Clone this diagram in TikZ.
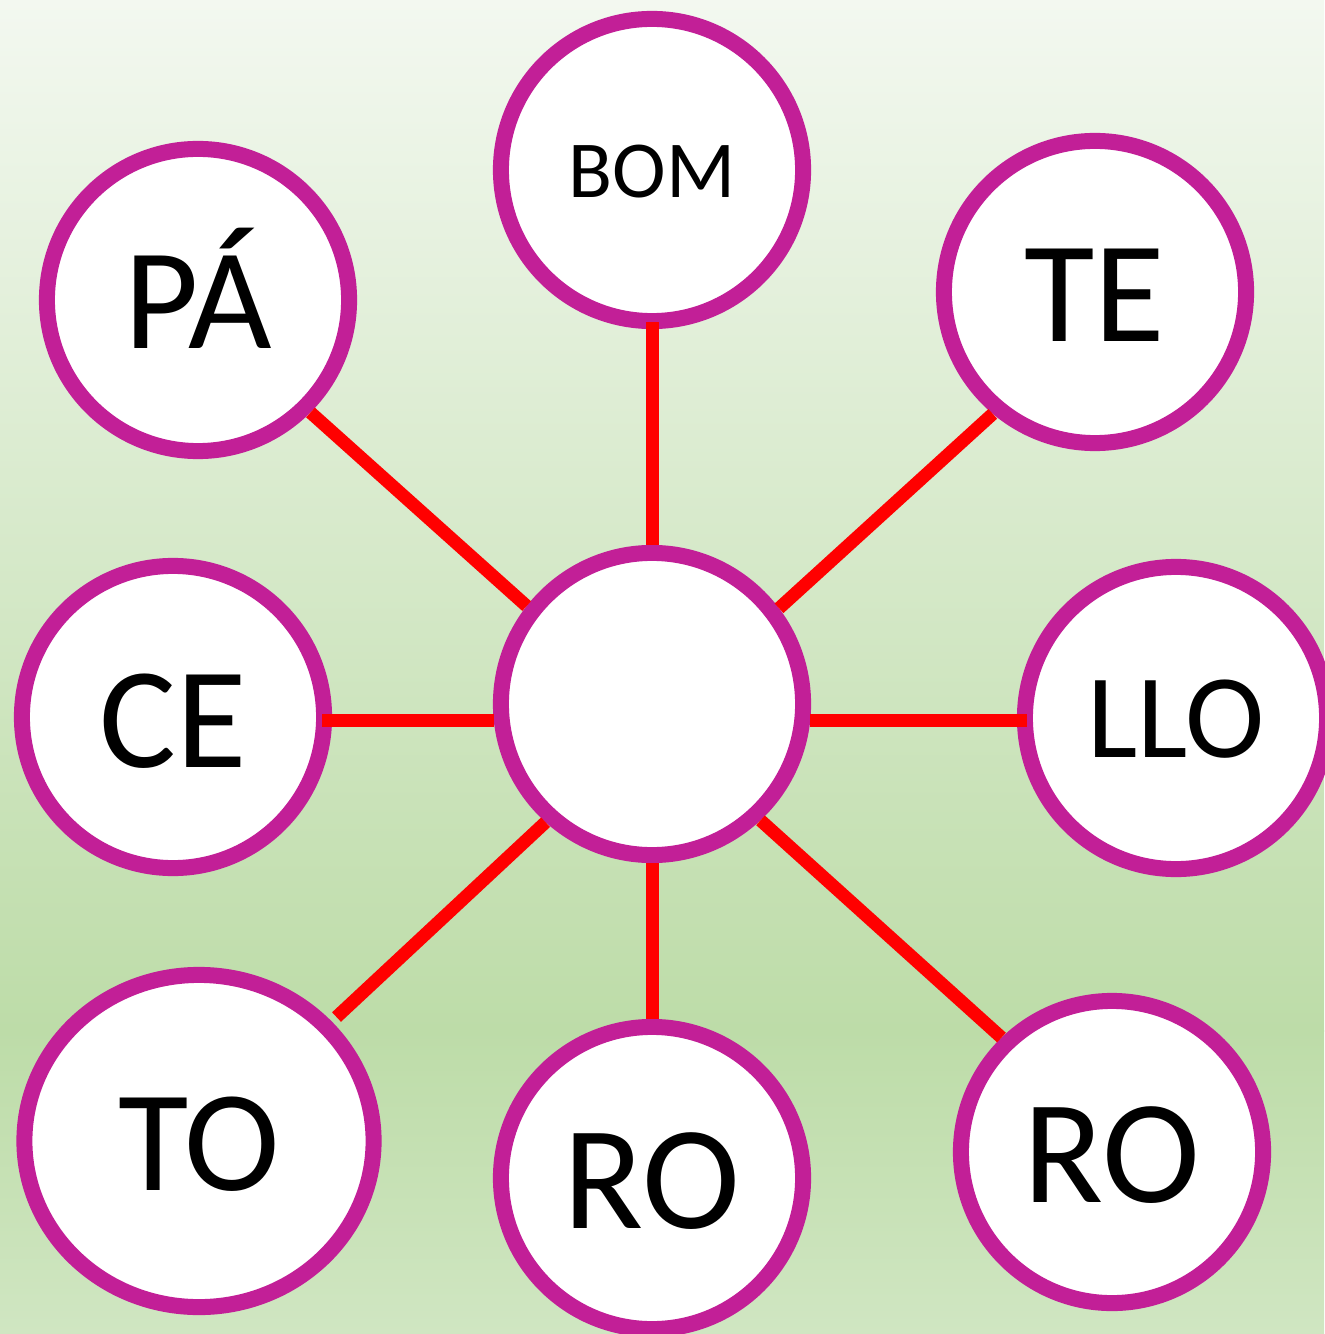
\documentclass[tikz,border=0pt]{standalone}
\usepackage{fontspec}
\setmainfont{Carlito}
\usetikzlibrary{shapes.geometric}
\definecolor{bgtop}{RGB}{243,248,240}
\definecolor{bgmid}{RGB}{189,220,168}
\definecolor{bgbot}{RGB}{208,230,194}
\definecolor{ringpurple}{RGB}{194,31,151}
\definecolor{linkred}{RGB}{255,0,0}
\tikzset{
  bubble/.style={circle, draw=ringpurple, fill=white, line width=0.16cm,
    minimum size=3.02cm, inner sep=0pt, text depth=0pt, text=black},
  bigtext/.style={font=\fontsize{41pt}{41pt}\selectfont},
  link/.style={draw=linkred, line width=0.13cm, line cap=butt}
}
\begin{document}
\begin{tikzpicture}[x=0.01cm, y=-0.01cm]
  \useasboundingbox (0,0) rectangle (1324,1334);
  \shade[top color=bgtop, bottom color=bgmid] (0,0) rectangle (1324,1031);
  \shade[top color=bgmid, bottom color=bgbot] (0,1030) rectangle (1324,1334);

  \node[bubble] (c) at (652,704) {};
  \node[bubble, font=\fontsize{23pt}{23pt}\selectfont, text height=0.54cm] (bom) at (652,170) {BOM};
  \node[bubble, bigtext, text height=0.96cm] (pa) at (198,300) {PÁ};
  \node[bubble, bigtext, text height=0.98cm] (te) at (1095,292) {TE};
  \node[bubble, bigtext, text height=1.0cm] (ce) at (173,717) {CE};
  \node[bubble, font=\fontsize{34pt}{34pt}\selectfont, text height=0.78cm] (llo) at (1176,718) {LLO};
  \node[bubble, ellipse, minimum width=3.49cm, minimum height=3.32cm, bigtext, text height=0.98cm] (to) at (199,1141) {TO};
  \node[bubble, font=\fontsize{42pt}{42pt}\selectfont, text height=1.0cm] (rob) at (652,1178) {RO};
  \node[bubble, font=\fontsize{42pt}{42pt}\selectfont, text height=1.0cm] (ror) at (1112,1152) {RO};

  \draw[link, shorten >=-0.07cm] (c.90) -- (bom.-90);
  \draw[link] (c.142.2) -- (pa.-45.3);
  \draw[link] (c.37.2) -- (te.-130.4);
  \draw[link, shorten >=-0.1cm] (c.186.8) -- (c.186.8 -| ce.east);
  \draw[link, shorten >=-0.1cm] (c.-6.8) -- (c.-6.8 -| llo.west);
  \draw[link, shorten >=0.065cm] (c.-132.2) -- (to.42);
  \draw[link] (c.-90) -- (rob.90);
  \draw[link] (c.-47.8) -- (ror.134);
\end{tikzpicture}
\end{document}
